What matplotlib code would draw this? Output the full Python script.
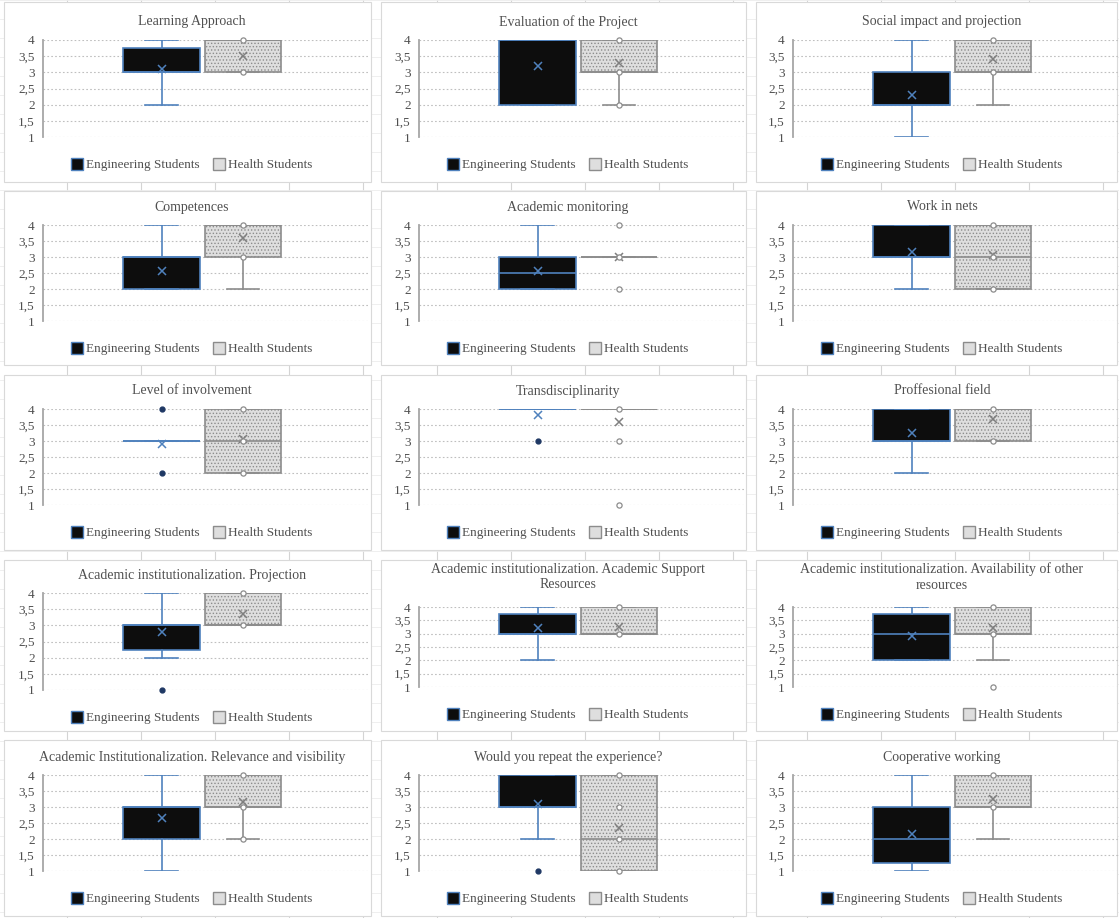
import matplotlib
matplotlib.use("Agg")
import matplotlib.pyplot as plt
from matplotlib.lines import Line2D
from matplotlib.patches import Rectangle

plt.rcParams['font.family'] = ['Liberation Serif', 'DejaVu Serif']
plt.rcParams['hatch.linewidth'] = 0.6

# ---- data -----------------------------------------------------------------
titles = [
    "Learning Approach", "Evaluation of the Project", "Social impact and projection",
    "Competences", "Academic monitoring", "Work in nets",
    "Level of involvement", "Transdisciplinarity", "Proffesional field",
    "Academic institutionalization. Projection",
    "Academic institutionalization. Academic Support\nResources",
    "Academic institutionalization. Availability of other\nresources",
    "Academic Institutionalization. Relevance and visibility",
    "Would you repeat the experience?", "Cooperative working",
]
series = ["Engineering Students", "Health Students"]

# Engineering students
eng_q1 = [3, 2, 2, 2, 2, 3, 3, 4, 3, 2.25, 3, 2, 2, 3, 1.25]
eng_med = [3, 4, 2, 3, 2.5, 3, 3, 4, 3, 3, 3, 3, 3, 3, 2]
eng_q3 = [3.75, 4, 3, 3, 3, 4, 3, 4, 4, 3, 3.75, 3.75, 3, 4, 3]
eng_lo = [2, 2, 1, 2, 2, 2, 3, 4, 2, 2, 2, 2, 1, 2, 1]
eng_hi = [4, 4, 4, 4, 4, 4, 3, 4, 4, 4, 4, 4, 4, 4, 4]
eng_mean = [3.1, 3.2, 2.3, 2.55, 2.55, 3.15, 2.9, 3.8, 3.25, 2.8, 3.2, 2.9, 2.65, 3.1, 2.15]
eng_out = [[], [], [], [], [], [], [2, 4], [3], [], [1], [], [], [], [1], []]

# Health students
hea_q1 = [3, 3, 3, 3, 3, 2, 2, 4, 3, 3, 3, 3, 3, 1, 3]
hea_med = [4, 3, 3, 4, 3, 3, 3, 4, 4, 3, 3, 3, 3, 2, 3]
hea_q3 = [4, 4, 4, 4, 3, 4, 4, 4, 4, 4, 4, 4, 4, 4, 4]
hea_lo = [3, 2, 2, 2, 3, 2, 2, 4, 3, 3, 3, 2, 2, 1, 2]
hea_hi = [4, 4, 4, 4, 3, 4, 4, 4, 4, 4, 4, 4, 4, 4, 4]
hea_mean = [3.5, 3.3, 3.4, 3.6, 3.0, 3.05, 3.05, 3.6, 3.7, 3.35, 3.25, 3.2, 3.15, 2.35, 3.25]
hea_pts = [[3, 4], [2, 3, 4], [3, 4], [3, 4], [2, 3, 4], [2, 3, 4], [2, 3, 4], [1, 3, 4],
           [3, 4], [3, 4], [3, 4], [1, 3, 4], [2, 3, 4], [1, 2, 3, 4], [3, 4]]

yticks = [1, 1.5, 2, 2.5, 3, 3.5, 4]

# ---- layout (pixels) -------------------------------------------------------
W, H = 1119, 918
col_axis = [43, 419, 793]
row_top = [40, 225, 409, 593, 775]
row_bot = [137, 321, 505, 690, 871]
panel_x = [(4, 371), (381, 746), (756, 1117)]
panel_y = [(2, 182), (191, 365), (375, 550), (560, 731), (740, 916)]

TXT = '#505050'
BLUE = '#4f81bd'
NAVY = '#1f3864'
GREY = '#8c8c8c'

fig = plt.figure(figsize=(W / 100, H / 100), dpi=100)

# spreadsheet cells behind the charts
for x in range(67, W, 74):
    fig.add_artist(Line2D([x / W, x / W], [0, 1], color='#d4d4d4', lw=0.8, zorder=-3))
for y in range(0, H, 19):
    fig.add_artist(Line2D([0, 1], [1 - y / H, 1 - y / H], color='#ececec', lw=0.6, zorder=-3))
for (x0, x1) in panel_x:
    for (y0, y1) in panel_y:
        fig.add_artist(Rectangle((x0 / W, 1 - y1 / H), (x1 - x0) / W, (y1 - y0) / H,
                                 transform=fig.transFigure, facecolor='white',
                                 edgecolor='#d9d9d9', lw=0.8, zorder=-2))

for i, title in enumerate(titles):
    r, c = divmod(i, 3)
    top, bot = row_top[r], row_bot[r]
    two_lines = '\n' in title
    if two_lines:
        top, bot = 607, 687
    left = col_axis[c]
    ax = fig.add_axes([left / W, 1 - bot / H, 327 / W, (bot - top) / H])
    ax.patch.set_alpha(0)

    eng = dict(med=eng_med[i], q1=eng_q1[i], q3=eng_q3[i], whislo=eng_lo[i],
               whishi=eng_hi[i], mean=eng_mean[i], fliers=eng_out[i])
    hea = dict(med=hea_med[i], q1=hea_q1[i], q3=hea_q3[i], whislo=hea_lo[i],
               whishi=hea_hi[i], mean=hea_mean[i], fliers=[])

    b1 = ax.bxp([eng], positions=[1], widths=0.94, capwidths=0.4, patch_artist=True,
                showmeans=True,
                boxprops=dict(facecolor='#0d0d0d', edgecolor=BLUE, lw=1.2),
                whiskerprops=dict(color=BLUE, lw=1.2), capprops=dict(color=BLUE, lw=1.2),
                medianprops=dict(color=BLUE, lw=1.2),
                meanprops=dict(marker='x', markeredgecolor=BLUE, markersize=6, mew=1.1),
                flierprops=dict(marker='o', markerfacecolor=NAVY, markeredgecolor=NAVY,
                                markersize=3.5))
    b2 = ax.bxp([hea], positions=[2], widths=0.94, capwidths=0.4, patch_artist=True,
                showmeans=True,
                boxprops=dict(facecolor='#dedede', edgecolor=GREY, lw=1.2, hatch='.....'),
                whiskerprops=dict(color=GREY, lw=1.2), capprops=dict(color=GREY, lw=1.2),
                medianprops=dict(color=GREY, lw=1.2),
                meanprops=dict(marker='x', markeredgecolor='#7f7f7f', markersize=6, mew=1.1))
    for art in b1['fliers'] + b1['means'] + b2['means']:
        art.set_clip_on(False)
    ax.scatter([2] * len(hea_pts[i]), hea_pts[i], s=14, facecolor='white',
               edgecolor=GREY, lw=0.9, zorder=5, clip_on=False)

    ax.set_xlim(-0.454, 3.558)
    ax.set_ylim(1, 4)
    ax.set_yticks(yticks)
    ax.set_yticklabels([('%g' % v).replace('.', ',') for v in yticks],
                       fontsize=9.5, color=TXT)
    ax.set_xticks([])
    ax.tick_params(axis='y', length=0, pad=6)
    ax.yaxis.grid(True, linestyle=(0, (1.5, 2)), color='#bfbfbf', lw=0.8)
    ax.set_axisbelow(True)
    for s in ['top', 'right', 'bottom']:
        ax.spines[s].set_visible(False)
    ax.spines['left'].set_color('#a6a6a6')
    ax.spines['left'].set_linewidth(1.3)

    cx = (left + 149) / W
    ty = top - (30 if two_lines else 18)
    fig.text(cx, 1 - ty / H, title, ha='center', va='center', fontsize=10,
             color=TXT, linespacing=1.3)

    handles = [Line2D([], [], ls='none', marker='s', markersize=8,
                      markerfacecolor='#0d0d0d', markeredgecolor=BLUE),
               Line2D([], [], ls='none', marker='s', markersize=8,
                      markerfacecolor='#dedede', markeredgecolor=GREY)]
    ax.legend(handles, series, loc='center', bbox_to_anchor=(cx, 1 - (bot + 28) / H),
              bbox_transform=fig.transFigure, ncol=2, frameon=False, fontsize=9.5,
              labelcolor=TXT, handlelength=0.8, handletextpad=0.3, columnspacing=1.0)

fig.savefig('out.png', dpi=100)
